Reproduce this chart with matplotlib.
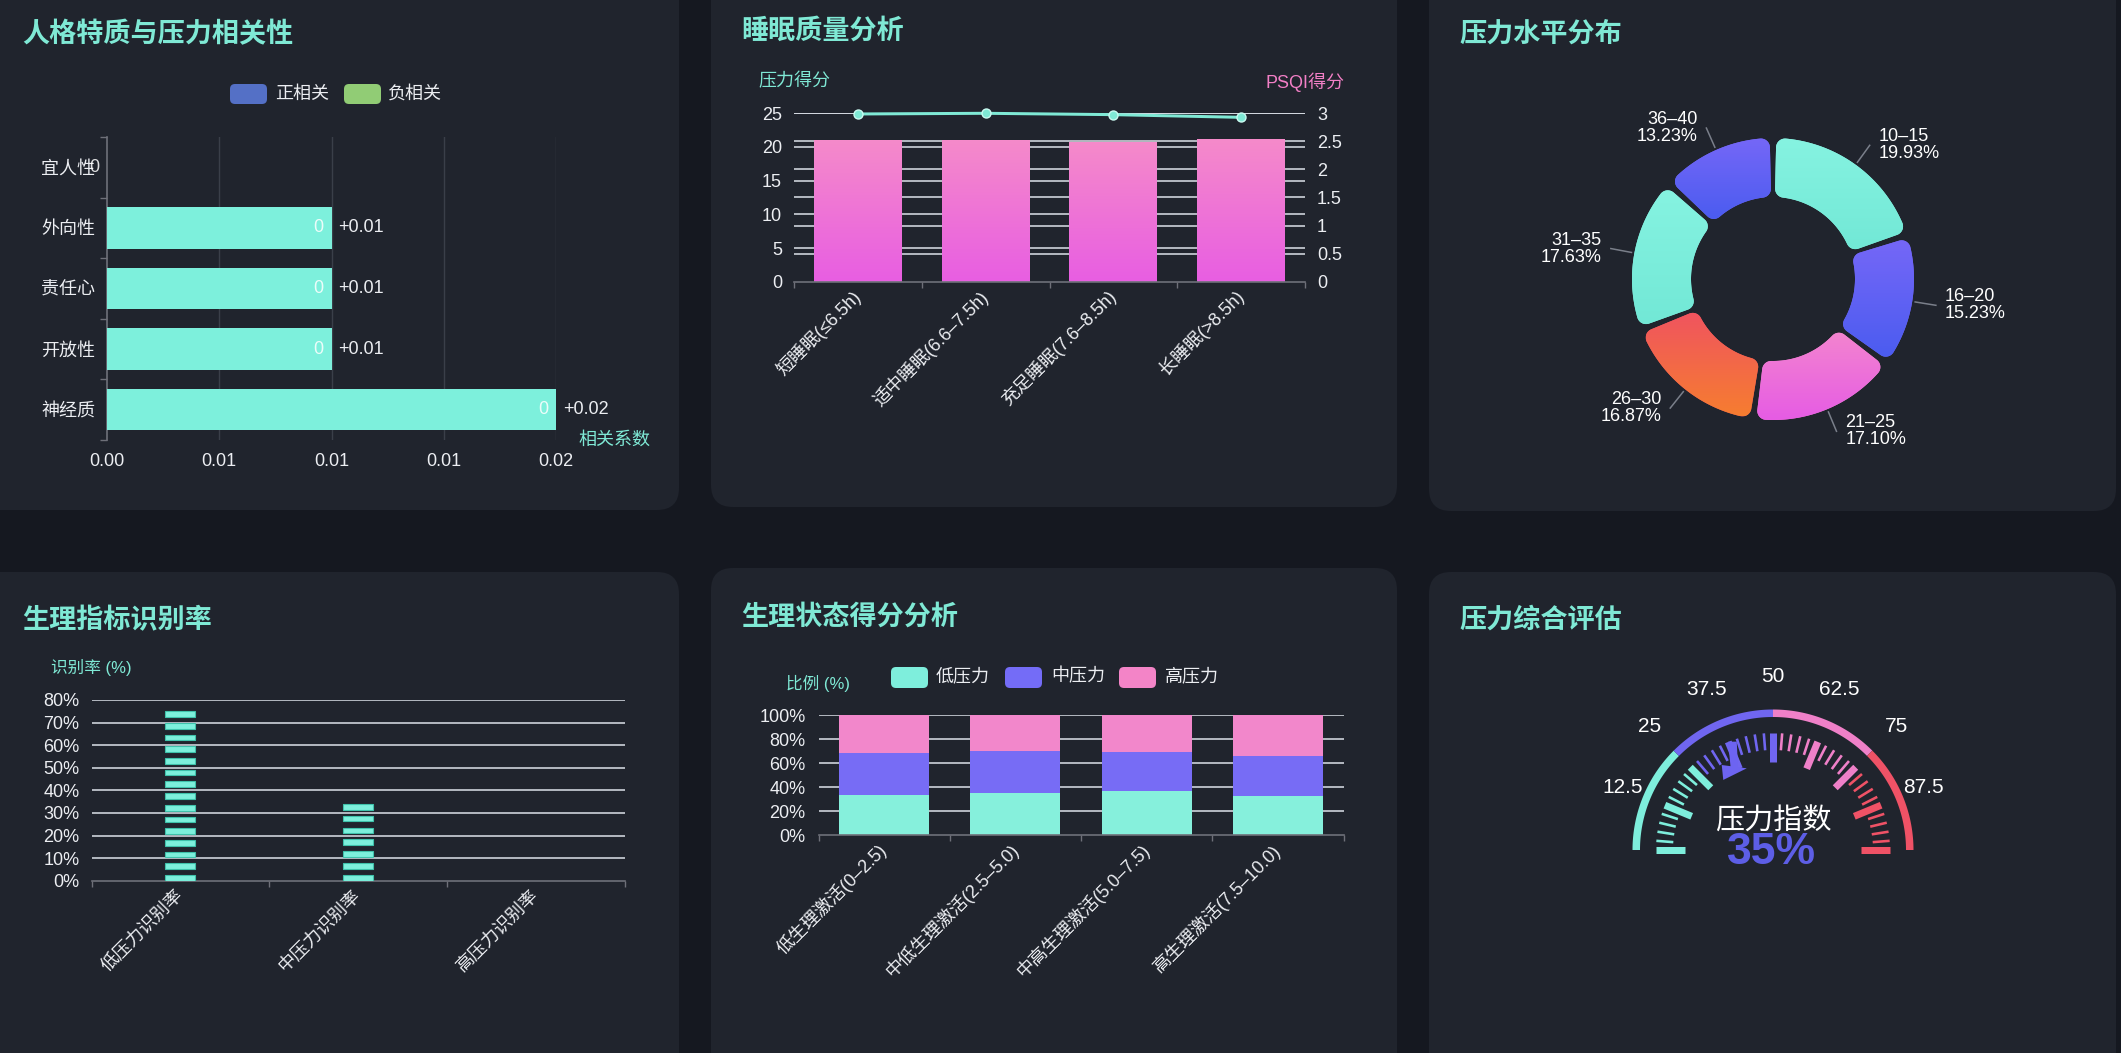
import numpy as np
import matplotlib
matplotlib.use('Agg')
import matplotlib.pyplot as plt
from matplotlib.patches import FancyBboxPatch, Polygon
from matplotlib.colors import to_rgb

plt.rcParams['font.family'] = ['Liberation Sans', 'Noto Sans CJK SC', 'DejaVu Sans']
plt.rcParams['axes.unicode_minus'] = False

# ---------------- data ----------------
trait_names = ['神经质', '开放性', '责任心', '外向性', '宜人性']
trait_corr = [0.02, 0.01, 0.01, 0.01, 0.0]
corr_ticks = [0.0, 0.005, 0.01, 0.015, 0.02]
corr_legend = ['正相关', '负相关']

sleep_cats = ['短睡眠(≤6.5h)', '适中睡眠(6.6–7.5h)', '充足睡眠(7.6–8.5h)', '长睡眠(>8.5h)']
sleep_psqi = [2.52, 2.52, 2.49, 2.54]
sleep_stress = [24.9, 25.0, 24.8, 24.4]
stress_ticks = [0, 5, 10, 15, 20, 25]
psqi_ticks = [0, 0.5, 1, 1.5, 2, 2.5, 3]

level_names = ['10–15', '16–20', '21–25', '26–30', '31–35', '36–40']
level_pct = [19.93, 15.23, 17.10, 16.87, 17.63, 13.23]

recog_cats = ['低压力识别率', '中压力识别率', '高压力识别率']
recog_vals = [75, 34, 0]
recog_ticks = [0, 10, 20, 30, 40, 50, 60, 70, 80]

phys_cats = ['低生理激活(0–2.5)', '中低生理激活(2.5–5.0)', '中高生理激活(5.0–7.5)', '高生理激活(7.5–10.0)']
phys_series = ['低压力', '中压力', '高压力']
phys_low = [33.3, 35.3, 36.9, 32.5]
phys_mid = [35.3, 35.0, 32.0, 33.3]
phys_high = [31.4, 29.7, 31.1, 34.2]
phys_ticks = [0, 20, 40, 60, 80, 100]

gauge_value = 35
gauge_stops = [25, 50, 75, 100]
gauge_label_vals = [12.5, 25, 37.5, 50, 62.5, 75, 87.5]
gauge_title = '压力指数'

titles = ['人格特质与压力相关性', '睡眠质量分析', '压力水平分布',
          '生理指标识别率', '生理状态得分分析', '压力综合评估']

# ---------------- style ----------------
W, H, DPI = 2121, 1053, 100
GAP = '#151820'
PANEL = '#20242d'
TEAL = '#7fe9d5'
TXT = '#eceef2'
AXG = '#6e7079'
GRIDL = '#dde2ea'
GRIDD = '#3a3f49'
AQUA = '#7df0dc'
PURPLE = '#7468f3'
PINK = '#f286cb'
RED = '#ef5567'
FS = 13
FS_T = 19.5


def pt(px):
    return px * 72.0 / DPI


def vgrad(c_top, c_bot, n=128):
    a = np.array(to_rgb(c_top))
    b = np.array(to_rgb(c_bot))
    t = np.linspace(0, 1, n)[:, None]
    return (a * (1 - t) + b * t)[:, None, :]


fig = plt.figure(figsize=(W / DPI, H / DPI), dpi=DPI)
fig.patch.set_facecolor(GAP)
bg = fig.add_axes([0, 0, 1, 1])
bg.set_xlim(0, W)
bg.set_ylim(H, 0)
bg.axis('off')
bg.set_autoscale_on(False)


def ax_at(x0, y0, x1, y1):
    a = fig.add_axes([x0 / W, 1 - y1 / H, (x1 - x0) / W, (y1 - y0) / H])
    a.patch.set_visible(False)
    for s in a.spines.values():
        s.set_visible(False)
    return a


# panels
panels = [(-30, -30, 679, 510), (711, -30, 1397, 507), (1429, -30, 2116, 511),
          (-30, 572, 679, 1100), (711, 568, 1397, 1100), (1429, 572, 2116, 1100)]
for x0, y0, x1, y1 in panels:
    bg.add_patch(FancyBboxPatch((x0, y0), x1 - x0, y1 - y0,
                                boxstyle='round,pad=0,rounding_size=22',
                                fc=PANEL, ec='none', zorder=0))
title_pos = [(22, 35), (741, 32), (1459, 35), (22, 621), (741, 618), (1459, 621)]
for (tx, ty), t in zip(title_pos, titles):
    bg.text(tx, ty, t, color=TEAL, fontsize=FS_T, fontweight='bold', ha='left', va='center')


def swatch(x, y, w, h, color):
    bg.add_patch(FancyBboxPatch((x, y), w, h, boxstyle='round,pad=0,rounding_size=5',
                                fc=color, ec='none', zorder=2))


# ---------------- panel 1: horizontal bars ----------------
for (sx, lx), name, col in zip([(230, 275), (344, 388)], corr_legend, ['#5470c6', '#91cc75']):
    swatch(sx, 84, 37, 20, col)
    bg.text(lx, 94, name, color=TXT, fontsize=FS, ha='left', va='center')

ax1 = ax_at(107, 137, 556, 440)
yy = np.arange(len(trait_names))
ax1.barh(yy, trait_corr, height=0.68, color=AQUA, zorder=3)
ax1.set_xlim(corr_ticks[0], corr_ticks[-1])
ax1.set_ylim(-0.5, len(trait_names) - 0.5)
for t in corr_ticks[1:]:
    ax1.axvline(t, color=GRIDD, lw=1, zorder=1)
ax1.set_xticks(corr_ticks, [f'{t:.2f}' for t in corr_ticks])
ax1.tick_params(axis='x', length=0, pad=pt(13), labelsize=FS, labelcolor=TXT)
ax1.set_yticks(yy, trait_names)
ax1.set_yticks(np.arange(-0.5, len(trait_names)), minor=True)
ax1.tick_params(axis='y', which='major', length=0, pad=pt(12), labelsize=FS, labelcolor=TXT)
ax1.tick_params(axis='y', which='minor', length=pt(7), width=1, color=AXG)
ax1.spines['left'].set_visible(True)
ax1.spines['left'].set_color(AXG)
ax1.spines['left'].set_linewidth(1.2)
for yi, v in zip(yy, trait_corr):
    ax1.annotate(f'{round(v)}', (v, yi), xytext=(-pt(8), 0), textcoords='offset points',
                 ha='right', va='center', color='white', alpha=0.85, fontsize=FS, zorder=5,
                 annotation_clip=False)
    if v:
        ax1.annotate(f'+{v:.2f}', (v, yi), xytext=(pt(7), 0), textcoords='offset points',
                     ha='left', va='center', color=TXT, fontsize=FS, zorder=5,
                     annotation_clip=False)
bg.text(578, 440, '相关系数', color=TEAL, fontsize=FS, ha='left', va='center')

# ---------------- panel 2: bars + line, dual axis ----------------
ax2 = ax_at(794, 113.3, 1305, 281.7)
ax2r = ax2.twinx()
for s in ax2r.spines.values():
    s.set_visible(False)
ax2.set_zorder(ax2r.get_zorder() + 1)
ax2.patch.set_visible(False)
xs2 = np.arange(len(sleep_cats))
ax2r.hlines(psqi_ticks[1:], -0.5, len(sleep_cats) - 0.5, colors=GRIDL, lw=1.1, zorder=0)
ax2r.hlines(stress_ticks[1:], -0.5, len(sleep_cats) - 0.5, colors=GRIDL, lw=1.1, zorder=0,
            transform=ax2.transData)
bars2 = ax2r.bar(xs2, sleep_psqi, width=0.687, color=PINK, zorder=2)
for b in bars2:
    ax2r.imshow(vgrad('#f58aca', '#e85ee2'),
                extent=(b.get_x(), b.get_x() + b.get_width(), 0, b.get_height()),
                origin='upper', aspect='auto', zorder=2.1, interpolation='bilinear')
ax2.plot(xs2, sleep_stress, color=TEAL, lw=pt(3), marker='o', ms=pt(9), mfc=TEAL,
         mec='#c9fbf1', mew=1, zorder=5, clip_on=False)
ax2.set_xlim(-0.5, len(sleep_cats) - 0.5)
ax2r.set_xlim(-0.5, len(sleep_cats) - 0.5)
ax2.set_ylim(0, 25)
ax2r.set_ylim(0, 3)
ax2.set_yticks(stress_ticks, [f'{t:g}' for t in stress_ticks])
ax2r.set_yticks(psqi_ticks, [f'{t:g}' for t in psqi_ticks])
ax2.tick_params(axis='y', length=0, pad=pt(12), labelsize=FS, labelcolor=TXT)
ax2r.tick_params(axis='y', length=0, pad=pt(12), labelsize=FS, labelcolor=TXT)
ax2.set_xticks(xs2, sleep_cats, rotation=45, ha='right', va='center', rotation_mode='anchor')
ax2.set_xticks(np.arange(-0.5, len(sleep_cats)), minor=True)
ax2.tick_params(axis='x', which='major', length=0, pad=pt(12), labelsize=FS, labelcolor=TXT)
ax2.tick_params(axis='x', which='minor', length=pt(6), width=1, color=AXG)
ax2.spines['bottom'].set_visible(True)
ax2.spines['bottom'].set_color(AXG)
ax2.spines['bottom'].set_linewidth(1.2)
bg.text(794, 82, '压力得分', color=TEAL, fontsize=FS, ha='center', va='center')
bg.text(1305, 82, 'PSQI得分', color='#f27fc6', fontsize=FS, ha='center', va='center')


# ---------------- panel 3: donut ----------------
def rounded_sector(t1, t2, ri, ro, c):
    def arc(r, a0, a1, ox=0.0, oy=0.0, n=24):
        t = np.linspace(a0, a1, n)
        return np.c_[ox + r * np.cos(t), oy + r * np.sin(t)]
    pts = []
    rA = ro - c
    phA = t2 - np.arcsin(c / rA)
    rB = ri + c
    phB = t2 - np.arcsin(c / rB)
    phC = t1 + np.arcsin(c / rB)
    phD = t1 + np.arcsin(c / rA)
    pts.append(arc(ro, phD, phA, n=60))
    pts.append(arc(c, phA, t2 + np.pi / 2, rA * np.cos(phA), rA * np.sin(phA)))
    pts.append(arc(c, t2 + np.pi / 2, phB + np.pi, rB * np.cos(phB), rB * np.sin(phB)))
    pts.append(arc(ri, phB, phC, n=40))
    pts.append(arc(c, phC + np.pi, t1 + 1.5 * np.pi, rB * np.cos(phC), rB * np.sin(phC)))
    pts.append(arc(c, t1 - np.pi / 2, phD, rA * np.cos(phD), rA * np.sin(phD)))
    return np.vstack(pts)


pie_grads = [('#86f3e1', '#72e8d6'), ('#7567f7', '#4b5cf0'),
             ('#f384cf', '#e65ce4'), ('#f0545f', '#f67d30')]
cx3, cy3, ro3, ri3 = 1773, 279, 141, 82
gap_ang = np.degrees(2.6 / ((ro3 + ri3) / 2))
total = sum(level_pct)
start = 90.0
for i, (name, p) in enumerate(zip(level_names, level_pct)):
    span = p / total * 360.0
    a_hi = start - gap_ang
    a_lo = start - span + gap_ang
    loc = rounded_sector(np.radians(a_lo), np.radians(a_hi), ri3, ro3, 9)
    X = cx3 + loc[:, 0]
    Y = cy3 - loc[:, 1]
    ctop, cbot = pie_grads[i % 4]
    poly = Polygon(np.c_[X, Y], closed=True, fc=ctop, ec='none', zorder=2)
    bg.add_patch(poly)
    im = bg.imshow(vgrad(ctop, cbot), extent=(X.min(), X.max(), Y.max(), Y.min()),
                   origin='upper', aspect='auto', zorder=2.1, interpolation='bilinear')
    im.set_clip_path(poly)
    mid = np.radians(start - span / 2)
    x_a, y_a = cx3 + (ro3 + 3) * np.cos(mid), cy3 - (ro3 + 3) * np.sin(mid)
    x_b, y_b = cx3 + (ro3 + 24) * np.cos(mid), cy3 - (ro3 + 24) * np.sin(mid)
    bg.plot([x_a, x_b], [y_a, y_b], color='#7a7f8a', lw=1.1, zorder=3)
    right = np.cos(mid) >= 0
    bg.text(x_b + (9 if right else -9), y_b, f'{name}\n{p:.2f}%', color='white',
            fontsize=FS, ha='left' if right else 'right', va='center', linespacing=1.0,
            multialignment='left' if right else 'right', zorder=4)
    start -= span

# ---------------- panel 4: pictorial bars ----------------
bg.text(91.5, 668, '识别率 (%)', color=TEAL, fontsize=12, ha='center', va='center')
ax4 = ax_at(91.5, 700, 625, 880.7)
ax4.set_xlim(-0.5, len(recog_cats) - 0.5)
ax4.set_ylim(recog_ticks[0], recog_ticks[-1])
ax4.hlines(recog_ticks[1:], -0.5, len(recog_cats) - 0.5, colors=GRIDL, lw=1.1, zorder=0)
SEG_STEP, SEG_H = 5.0, 2.5
for i, v in enumerate(recog_vals):
    n = int(round(v / SEG_STEP))
    if n == 0:
        continue
    step = (v - SEG_H) / (n - 1) if n > 1 else 0
    ax4.bar([i] * n, [SEG_H] * n, bottom=np.arange(n) * step, width=0.169,
            color=AQUA, edgecolor='#3fc2ab', linewidth=0.8, zorder=3)
ax4.set_yticks(recog_ticks, [f'{t}%' for t in recog_ticks])
ax4.tick_params(axis='y', length=0, pad=pt(12), labelsize=FS, labelcolor=TXT)
ax4.set_xticks(np.arange(len(recog_cats)), recog_cats, rotation=45, ha='right', va='center',
               rotation_mode='anchor')
ax4.set_xticks(np.arange(-0.5, len(recog_cats)), minor=True)
ax4.tick_params(axis='x', which='major', length=0, pad=pt(12), labelsize=FS, labelcolor=TXT)
ax4.tick_params(axis='x', which='minor', length=pt(6), width=1, color=AXG)
ax4.spines['bottom'].set_visible(True)
ax4.spines['bottom'].set_color(AXG)
ax4.spines['bottom'].set_linewidth(1.2)

# ---------------- panel 5: stacked 100% bars ----------------
bg.text(818.5, 683, '比例 (%)', color=TEAL, fontsize=12, ha='center', va='center')
leg5_cols = ['#7eeedc', '#746cf7', '#f384c7']
for (sx, lx), name, col in zip([(891, 936), (1005, 1051), (1119, 1165)], phys_series, leg5_cols):
    swatch(sx, 667, 37, 21, col)
    bg.text(lx, 677, name, color=TXT, fontsize=FS, ha='left', va='center')
ax5 = ax_at(818.5, 715, 1343.7, 835)
xs5 = np.arange(len(phys_cats))
ax5.hlines(phys_ticks[1:], -0.5, len(phys_cats) - 0.5, colors=GRIDL, lw=1.1, zorder=0)
bottom = np.zeros(len(phys_cats))
for vals, col in zip([phys_low, phys_mid, phys_high], ['#86f0dc', '#776cf5', '#f287cb']):
    ax5.bar(xs5, vals, bottom=bottom, width=0.685, color=col, zorder=2)
    bottom += np.array(vals)
ax5.set_xlim(-0.5, len(phys_cats) - 0.5)
ax5.set_ylim(0, 100)
ax5.set_yticks(phys_ticks, [f'{t}%' for t in phys_ticks])
ax5.tick_params(axis='y', length=0, pad=pt(13), labelsize=FS, labelcolor=TXT)
ax5.set_xticks(xs5, phys_cats, rotation=45, ha='right', va='center', rotation_mode='anchor')
ax5.set_xticks(np.arange(-0.5, len(phys_cats)), minor=True)
ax5.tick_params(axis='x', which='major', length=0, pad=pt(12), labelsize=FS, labelcolor=TXT)
ax5.tick_params(axis='x', which='minor', length=pt(6), width=1, color=AXG)
ax5.spines['bottom'].set_visible(True)
ax5.spines['bottom'].set_color(AXG)
ax5.spines['bottom'].set_linewidth(1.2)

# ---------------- panel 6: gauge ----------------
cx6, cy6 = 1773, 850
gcols = ['#7eeedc', '#7066f0', '#ef80c8', '#ef5266']


def g_ang(v):
    return np.radians(180.0 - v / 100.0 * 180.0)


def g_col(v):
    for s, c in zip(gauge_stops, gcols):
        if v <= s + 1e-9:
            return c
    return gcols[-1]


def annulus(r0, r1, a0, a1, n=80):
    t = np.linspace(a0, a1, n)
    outer = np.c_[cx6 + r1 * np.cos(t), cy6 - r1 * np.sin(t)]
    inner = np.c_[cx6 + r0 * np.cos(t[::-1]), cy6 - r0 * np.sin(t[::-1])]
    return np.vstack([outer, inner])


prev = 0
for s, c in zip(gauge_stops, gcols):
    bg.add_patch(Polygon(annulus(133, 140.5, g_ang(s), g_ang(prev)), closed=True,
                         fc=c, ec='none', zorder=2))
    prev = s

for v in np.arange(0, 100.001, 2.5):
    a = g_ang(v)
    major = abs(v / 12.5 - round(v / 12.5)) < 1e-6
    r_in, r_out, lw = (88, 117, pt(7)) if major else (100, 117, pt(2.6))
    bg.plot([cx6 + r_in * np.cos(a), cx6 + r_out * np.cos(a)],
            [cy6 - r_in * np.sin(a), cy6 - r_out * np.sin(a)],
            color=g_col(v), lw=lw, solid_capstyle='butt', zorder=3)

for v in gauge_label_vals:
    a = g_ang(v)
    r = 163 if abs(np.cos(a)) > 0.8 else 174
    bg.text(cx6 + r * np.cos(a), cy6 - r * np.sin(a), f'{v:g}', color='white',
            fontsize=15, ha='center', va='center', zorder=4)

# pointer (arrow shape in local radial/tangential px, rotated to the value angle)
ptr_uv = np.array([(116.9, -9.1), (94.0, -0.2), (99.0, 7.1), (85.0, 12.5),
                   (84.7, -13.7), (89.7, -6.4), (113.0, -16.9)])
a = g_ang(gauge_value)
ux, uy = np.cos(a), np.sin(a)
vx, vy = -np.sin(a), np.cos(a)
px = cx6 + ptr_uv[:, 0] * ux + ptr_uv[:, 1] * vx
py = cy6 - (ptr_uv[:, 0] * uy + ptr_uv[:, 1] * vy)
bg.add_patch(Polygon(np.c_[px, py], closed=True, fc='#6d64f1', ec='none', zorder=4))

bg.text(cx6, 822, gauge_title, color='white', fontsize=21, ha='center', va='center', zorder=5)
bg.text(cx6 - 2, 853, f'{gauge_value}%', color='#5d5ee6', fontsize=32, fontweight='bold',
        ha='center', va='center', zorder=5)

bg.set_xlim(0, W)
bg.set_ylim(H, 0)

fig.savefig('out.png', dpi=DPI, facecolor=GAP)
